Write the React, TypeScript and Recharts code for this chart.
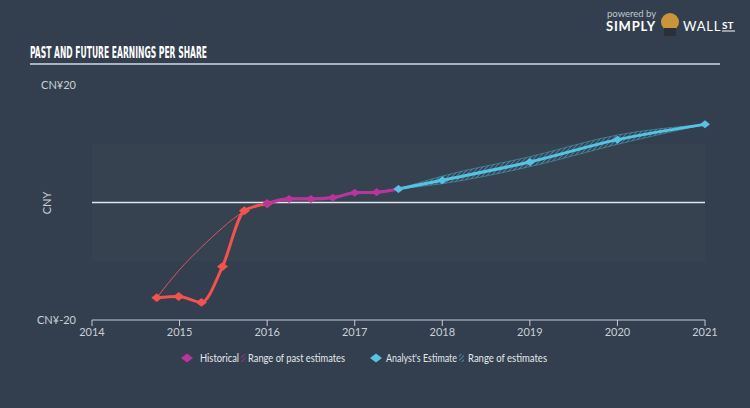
import React from "react"
import { ComposedChart, Line, Area, XAxis, YAxis, ReferenceLine, ReferenceArea } from "recharts"

// x positions are fractional years
const years = [2014.74, 2014.99, 2015.25, 2015.49, 2015.74, 2016.0, 2016.25, 2016.5, 2016.75, 2017.0, 2017.25, 2017.5, 2018, 2019, 2020, 2021]
const lossEps = [-16.2, -16.0, -17.0, -10.9, -1.4, -0.2, null, null, null, null, null, null, null, null, null, null]
const historicalEps = [null, null, null, null, null, -0.2, 0.6, 0.6, 0.8, 1.65, 1.75, 2.3, null, null, null, null]
const pastRangeLoss = [-16.2, -11.6, -7.6, -4.3, -1.5, 0.0, null, null, null, null, null, null, null, null, null, null]
const pastRangeProfit = [null, null, null, null, null, 0.0, 0.8, 0.8, 1.0, 1.8, 1.9, 2.4, null, null, null, null]
const estimateEps = [null, null, null, null, null, null, null, null, null, null, null, 2.3, 3.8, 6.9, 10.7, 13.3]
const estimateLow = [null, null, null, null, null, null, null, null, null, null, null, 2.3, 3.2, 6.1, 9.9, 13.3]
const estimateHigh = [null, null, null, null, null, null, null, null, null, null, null, 2.3, 4.5, 7.8, 11.5, 13.3]
const yearTicks = [2014, 2015, 2016, 2017, 2018, 2019, 2020, 2021]

const data = years.map((x, i) => ({
  x,
  loss: lossEps[i],
  hist: historicalEps[i],
  pastLoss: pastRangeLoss[i],
  pastProfit: pastRangeProfit[i],
  est: estimateEps[i],
  range: estimateLow[i] == null ? null : [estimateLow[i], estimateHigh[i]],
}))

const BG = "#333f4e"
const RED = "#f4524f"
const PURPLE = "#b9359e"
const BLUE = "#55c4e4"
const TEXT = "#c9d0d7"
const FONT = "Lato, 'Open Sans', sans-serif"

const diamond = (color: string, r: number) => (props: any) => {
  const { cx, cy, index } = props
  if (cx == null || cy == null || props.value == null) return <g key={index} />
  return (
    <polygon
      key={index}
      points={`${cx - r},${cy} ${cx},${cy - r * 0.8} ${cx + r},${cy} ${cx},${cy + r * 0.8}`}
      fill={color}
    />
  )
}

function Overlay() {
  const legendText = { fill: "#e4e8ec", fontSize: 10.5, fontFamily: FONT }
  return (
    <svg width={750} height={408} style={{ position: "absolute", left: 0, top: 0, pointerEvents: "none" }}>
      <defs>
        <pattern id="hatchLegendP" width="3" height="3" patternUnits="userSpaceOnUse" patternTransform="rotate(45)">
          <line x1="0" y1="0" x2="0" y2="3" stroke={PURPLE} strokeWidth="1.2" />
        </pattern>
        <pattern id="hatchLegendB" width="3" height="3" patternUnits="userSpaceOnUse" patternTransform="rotate(45)">
          <line x1="0" y1="0" x2="0" y2="3" stroke={BLUE} strokeWidth="1.2" />
        </pattern>
      </defs>
      {/* logo */}
      <text x={607} y={17} fill="#c0c7ce" fontSize={9.5} fontFamily={FONT}>powered by</text>
      <text x={606} y={31} fill="#ffffff" fontSize={13} fontWeight={700} fontFamily={FONT} letterSpacing={0.8}>SIMPLY</text>
      <circle cx={670} cy={22} r={9} fill="#c9953a" />
      <rect x={664} y={28} width={12} height={8} fill="#2a2f38" />
      <text x={683} y={31} fill="#ffffff" fontSize={13} fontFamily={FONT} letterSpacing={0.8}>WALL</text>
      <text x={722} y={29} fill="#ffffff" fontSize={10} fontWeight={700} fontFamily={FONT}>ST</text>
      <line x1={722} y1={31} x2={735} y2={31} stroke="#ffffff" strokeWidth={1} />
      {/* title */}
      <text x={30} y={58} fill="#ffffff" fontSize={16} fontWeight={700} fontFamily="'Liberation Sans Narrow', 'DejaVu Sans Condensed', sans-serif" textLength={177} lengthAdjust="spacingAndGlyphs">
        PAST AND FUTURE EARNINGS PER SHARE
      </text>
      <line x1={30} y1={64} x2={720} y2={64} stroke="#d5dbe0" strokeWidth={1.5} />
      {/* y axis title */}
      <text x={0} y={0} transform="translate(51,203) rotate(-90)" textAnchor="middle" fill={TEXT} fontSize={11} fontFamily={FONT}>CNY</text>
      {/* legend */}
      <polygon points="181,358 187,353.5 193,358 187,362.5" fill={PURPLE} />
      <text x={200} y={362} {...legendText} textLength={39} lengthAdjust="spacingAndGlyphs">Historical</text>
      <rect x={241} y={354} width={5} height={8} fill="url(#hatchLegendP)" />
      <text x={248} y={362} {...legendText} textLength={97} lengthAdjust="spacingAndGlyphs">Range of past estimates</text>
      <polygon points="370,358 376,353.5 382,358 376,362.5" fill={BLUE} />
      <text x={386} y={362} {...legendText} textLength={71} lengthAdjust="spacingAndGlyphs">Analyst's Estimate</text>
      <rect x={459} y={354} width={5} height={8} fill="url(#hatchLegendB)" />
      <text x={468} y={362} {...legendText} textLength={79} lengthAdjust="spacingAndGlyphs">Range of estimates</text>
    </svg>
  )
}

export default function App() {
  return (
    <div style={{ position: "fixed", left: 0, top: 0, width: 750, height: 408, background: BG, fontFamily: FONT }}>
      <ComposedChart width={750} height={408} data={data} margin={{ top: 85, right: 45, bottom: 58, left: 0 }}>
        <defs>
          <pattern id="hatch" width="3" height="3" patternUnits="userSpaceOnUse" patternTransform="rotate(45)">
            <line x1="0" y1="0" x2="0" y2="3" stroke={BLUE} strokeWidth="1" />
          </pattern>
        </defs>
        <ReferenceArea y1={-10} y2={10} fill="#ffffff" fillOpacity={0.02} stroke="none" />
        <XAxis
          dataKey="x"
          type="number"
          domain={[2014, 2021]}
          ticks={yearTicks}
          height={30}
          axisLine={{ stroke: "#c5ccd3", strokeWidth: 1 }}
          tickLine={{ stroke: "#c5ccd3" }}
          tickSize={6}
          tick={{ fill: TEXT, fontSize: 11, fontFamily: FONT }}
          tickMargin={2}
        />
        <YAxis
          type="number"
          domain={[-20, 20]}
          ticks={[-20, 20]}
          width={92}
          axisLine={false}
          tickLine={false}
          tickMargin={10}
          tick={{ fill: TEXT, fontSize: 11, fontFamily: FONT }}
          tickFormatter={(v: number) => `CN¥${v}`}
        />
        <ReferenceLine y={0} stroke="#dfe5ea" strokeWidth={1.5} />
        <Area
          dataKey="range"
          type="monotone"
          stroke={BLUE}
          strokeOpacity={0.5}
          strokeWidth={0.8}
          fill="url(#hatch)"
          fillOpacity={1}
          isAnimationActive={false}
        />
        <Line dataKey="pastLoss" type="natural" stroke="#e0525e" strokeWidth={1} dot={false} isAnimationActive={false} />
        <Line dataKey="pastProfit" type="monotone" stroke={PURPLE} strokeWidth={1} dot={false} isAnimationActive={false} />
        <Line dataKey="loss" type="monotone" stroke={RED} strokeWidth={3} dot={diamond(RED, 5.5)} activeDot={false} isAnimationActive={false} />
        <Line dataKey="hist" type="monotone" stroke={PURPLE} strokeWidth={3} dot={diamond(PURPLE, 5)} activeDot={false} isAnimationActive={false} />
        <Line dataKey="est" type="monotone" stroke={BLUE} strokeWidth={3} dot={diamond(BLUE, 5)} activeDot={false} isAnimationActive={false} />
      </ComposedChart>
      <Overlay />
    </div>
  )
}
